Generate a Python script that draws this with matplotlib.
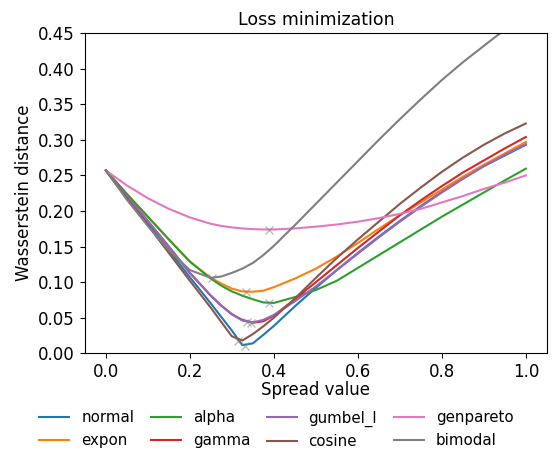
import matplotlib
matplotlib.use('Agg')
import matplotlib.pyplot as plt

# spread values the losses were read at
spread = [0.0, 0.05, 0.1, 0.15, 0.2, 0.25, 0.275, 0.3, 0.325, 0.35, 0.375, 0.4,
          0.45, 0.5, 0.55, 0.6, 0.65, 0.7, 0.75, 0.8, 0.85, 0.9, 0.95, 1.0]

normal = [0.257, 0.219, 0.182, 0.145, 0.107, 0.070, 0.051, 0.032, 0.0115, 0.014, 0.026, 0.0385,
          0.066, 0.092, 0.117, 0.141, 0.164, 0.186, 0.207, 0.227, 0.246, 0.263, 0.278, 0.293]
expon = [0.257, 0.224, 0.192, 0.160, 0.129, 0.106, 0.098, 0.091, 0.087, 0.0865, 0.088, 0.093,
         0.105, 0.119, 0.136, 0.155, 0.175, 0.194, 0.212, 0.230, 0.248, 0.265, 0.281, 0.297]
alpha = [0.257, 0.224, 0.192, 0.160, 0.129, 0.105, 0.095, 0.087, 0.081, 0.076, 0.0715, 0.0708,
         0.079, 0.089, 0.102, 0.120, 0.138, 0.156, 0.174, 0.192, 0.209, 0.226, 0.243, 0.2595]
gamma = [0.257, 0.221, 0.186, 0.150, 0.113, 0.081, 0.067, 0.055, 0.047, 0.043, 0.045, 0.053,
         0.076, 0.100, 0.124, 0.148, 0.171, 0.194, 0.215, 0.235, 0.254, 0.271, 0.288, 0.304]
gumbel_l = [0.257, 0.221, 0.186, 0.150, 0.113, 0.081, 0.067, 0.055, 0.046, 0.0435, 0.047, 0.054,
            0.073, 0.094, 0.117, 0.140, 0.163, 0.185, 0.206, 0.226, 0.245, 0.263, 0.279, 0.294]
cosine = [0.257, 0.218, 0.180, 0.141, 0.102, 0.064, 0.044, 0.024, 0.018, 0.027, 0.038, 0.050,
          0.077, 0.106, 0.134, 0.160, 0.185, 0.210, 0.233, 0.255, 0.275, 0.293, 0.309, 0.323]
genpareto = [0.257, 0.236, 0.218, 0.203, 0.191, 0.182, 0.179, 0.177, 0.1755, 0.1745, 0.174, 0.174,
             0.1755, 0.178, 0.181, 0.185, 0.190, 0.196, 0.203, 0.212, 0.221, 0.231, 0.240, 0.250]
bimodal = [0.257, 0.216, 0.179, 0.145, 0.117, 0.106, 0.108, 0.113, 0.119, 0.127, 0.138, 0.151,
           0.180, 0.210, 0.240, 0.270, 0.300, 0.329, 0.357, 0.384, 0.409, 0.432, 0.455, 0.477]

names = ['normal', 'expon', 'alpha', 'gamma', 'gumbel_l', 'cosine', 'genpareto', 'bimodal']
losses = [normal, expon, alpha, gamma, gumbel_l, cosine, genpareto, bimodal]

# location of the minimum found for each distribution
min_spread = [0.331, 0.334, 0.389, 0.346, 0.335, 0.315, 0.388, 0.252]
min_loss = [0.0107, 0.086, 0.0705, 0.0425, 0.0435, 0.0175, 0.174, 0.106]

fig, ax = plt.subplots(figsize=(5.58, 4.53), dpi=100)
fig.subplots_adjust(left=0.152, right=0.980, top=0.927, bottom=0.220)

for name, loss in zip(names, losses):
    ax.plot(spread, loss, label=name, linewidth=1.5)
ax.plot(min_spread, min_loss, 'x', color='gray', alpha=0.5, markersize=6, zorder=5)

ax.set_ylim(0, 0.45)
ax.set_xticks([0.0, 0.2, 0.4, 0.6, 0.8, 1.0])
ax.set_yticks([0.0, 0.05, 0.1, 0.15, 0.2, 0.25, 0.3, 0.35, 0.4, 0.45])
ax.set_yticklabels(['%.2f' % v for v in ax.get_yticks()])
ax.tick_params(labelsize=12)
ax.set_xlabel('Spread value', fontsize=12, labelpad=0)
ax.set_ylabel('Wasserstein distance', fontsize=12)
ax.set_title('Loss minimization', fontsize=12.5)

fig.legend(loc='upper center', bbox_to_anchor=(0.495, 0.124), ncol=4, frameon=False,
           fontsize=10.8, columnspacing=1.1, handletextpad=0.8)

fig.savefig('out.png', dpi=100)
